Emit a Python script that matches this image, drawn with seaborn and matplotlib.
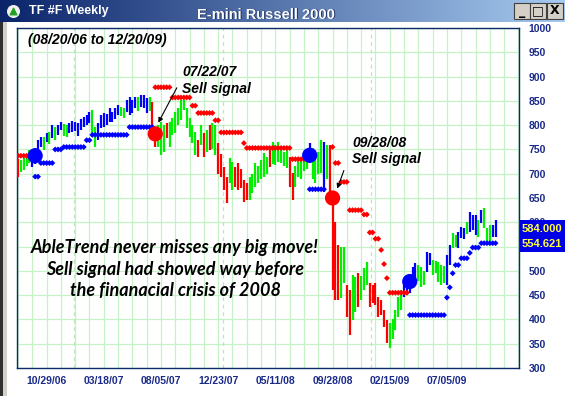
import numpy as np
import pandas as pd
import matplotlib
matplotlib.use("Agg")
import matplotlib.pyplot as plt
import seaborn as sns
from matplotlib.patches import Rectangle

# ---------------- data (weekly bars, week 0 = 08/20/06) ----------------
highs = [730, 728, 733, 738, 749, 745, 752, 769, 776, 776,
         784, 786, 800, 796, 800, 806, 803, 800, 804, 808,
         806, 804, 812, 817, 821, 827, 831, 796, 804, 820,
         825, 822, 835, 827, 836, 841, 838, 836, 852, 858,
         852, 858, 858, 862, 862, 855, 858, 848, 795, 800,
         806, 800, 804, 806, 815, 827, 835, 852, 852, 835,
         815, 800, 786, 769, 800, 784, 790, 800, 804, 800,
         763, 740, 714, 693, 732, 725, 714, 722, 710, 687,
         680, 693, 700, 722, 715, 728, 742, 735, 755, 765,
         760, 765, 749, 745, 749, 734, 701, 715, 734, 730,
         742, 745, 763, 753, 749, 745, 769, 765, 760, 759,
         640, 600, 553, 549, 549, 470, 460, 491, 487, 496,
         490, 506, 518, 475, 471, 475, 446, 440, 419, 399,
         393, 400, 419, 446, 460, 480, 485, 490, 508, 516,
         512, 508, 500, 539, 537, 522, 520, 518, 512, 510,
         533, 553, 578, 574, 580, 590, 588, 600, 621, 615,
         615, 605, 625, 629, 588, 594, 594, 605]
lows = [693, 703, 708, 715, 722, 714, 720, 728, 755, 749,
        765, 762, 773, 770, 780, 790, 778, 776, 784, 786,
        788, 778, 790, 796, 800, 804, 776, 755, 769, 794,
        796, 800, 806, 806, 812, 821, 818, 814, 827, 821,
        825, 835, 830, 837, 835, 825, 830, 774, 755, 755,
        738, 745, 774, 755, 780, 784, 800, 811, 831, 794,
        776, 763, 738, 734, 760, 734, 745, 749, 750, 738,
        700, 693, 667, 640, 680, 667, 673, 667, 670, 642,
        645, 646, 660, 673, 680, 690, 693, 700, 714, 720,
        718, 725, 722, 715, 712, 673, 646, 673, 693, 690,
        705, 710, 722, 690, 681, 700, 701, 662, 690, 652,
        460, 440, 440, 445, 475, 405, 368, 399, 415, 426,
        440, 460, 471, 426, 434, 430, 405, 410, 384, 351,
        341, 360, 378, 405, 419, 446, 450, 455, 467, 485,
        480, 467, 470, 498, 512, 491, 495, 477, 471, 475,
        471, 512, 547, 550, 547, 568, 565, 575, 580, 585,
        574, 570, 598, 588, 559, 559, 570, 570]
trend = list("rggggbbbbg" "bgbgbbggbb" "bbbbbbggbb" "bbbbbbggbb"
             "bbgbbbgrrg" "ggrggggggg" "gggrgrgrgg" "rrrrggrrrr"
             "rgggggggrg" "gggggrrggg" "ggbggggbgr" "rrrggrrggr"
             "gggrrrrrrr" "gggggbbbbb" "gggbbggggg" "bbggbbbgbb"
             "bgbgggbb")

# stop levels: (first week, last week, price)
red_stops = [(0, 5, 737), (48, 53, 878), (54, 60, 857), (61, 62, 840),
             (63, 68, 825), (69, 70, 810), (71, 78, 785), (79, 79, 763),
             (80, 95, 753), (96, 100, 730), (110, 110, 755), (111, 112, 722),
             (113, 115, 683), (116, 120, 625), (121, 122, 616), (123, 124, 579),
             (125, 126, 566), (127, 127, 543), (128, 128, 514), (129, 129, 485),
             (130, 136, 455)]
blue_stops = [(6, 7, 694), (8, 12, 722), (13, 15, 750), (16, 23, 755),
              (24, 25, 769), (26, 38, 780), (39, 47, 796), (102, 107, 668),
              (137, 149, 409), (150, 150, 445), (151, 151, 466), (152, 152, 495),
              (153, 154, 512), (155, 157, 526), (158, 158, 537), (159, 161, 548),
              (162, 167, 557)]
buy_weeks, buy_prices = [6, 102, 137], [737, 738, 478]
sell_weeks, sell_prices = [48, 110], [782, 650]

tick_weeks = [10, 30, 50, 70, 90, 110, 130, 150]
tick_labels = ["10/29/06", "03/18/07", "08/05/07", "12/23/07",
               "05/11/08", "09/28/08", "02/15/09", "07/05/09"]
year_marks = [19.6, 71.6, 123.6]
y_ticks = list(range(300, 1001, 50))
hidden_y_labels = [550]          # fully covered by the last-price box
last_prices = ["584.000", "554.621"]

# ---------------- figure ----------------
sns.set_style("white")
plt.rcParams['font.family'] = ['Liberation Sans', 'DejaVu Sans']

W, H = 565, 396
fig = plt.figure(figsize=(W / 100, H / 100), dpi=100)
fig.patch.set_facecolor("white")

NAVY = "#1a2a88"
BLUE, GREEN, RED = "#0000ff", "#00f000", "#ff0000"
cmap = {"b": BLUE, "g": GREEN, "r": RED}
GRID = "#c6f0c6"

ax = fig.add_axes([17 / W, 1 - 368 / H, (519 - 17) / W, (368 - 28) / H])
ax.set_xlim(-0.35, 175.2)
ax.set_ylim(300, 1000)

# grid
for w in range(0, 176, 5):
    ax.axvline(w, color=GRID, lw=0.9, zorder=0)
for y in y_ticks:
    ax.axhline(y, color=GRID, lw=0.9, zorder=0)
for w in year_marks:
    ax.axvline(w, color="#b8e8b8", lw=0.9, ls=(0, (3, 3)), zorder=0)

# bars
weeks = np.arange(len(highs))
bars = pd.DataFrame({"week": weeks, "high": highs, "low": lows, "trend": trend})
ax.vlines(bars["week"], bars["low"], bars["high"],
          colors=[cmap[t] for t in bars["trend"]], lw=1.6, zorder=3)

# stops
def expand(runs, kind):
    rows = []
    for a, b, p in runs:
        for w in range(a, b + 1):
            rows.append((w, p, kind))
    return rows

stops = pd.DataFrame(expand(red_stops, "red") + expand(blue_stops, "blue"),
                     columns=["week", "price", "kind"])
sns.scatterplot(data=stops, x="week", y="price", hue="kind",
                palette={"red": RED, "blue": BLUE}, s=9, marker="D",
                linewidth=0, legend=False, ax=ax, zorder=4)

signals = pd.DataFrame({"week": buy_weeks + sell_weeks,
                        "price": buy_prices + sell_prices,
                        "kind": ["buy"] * len(buy_weeks) + ["sell"] * len(sell_weeks)})
sns.scatterplot(data=signals, x="week", y="price", hue="kind",
                palette={"buy": BLUE, "sell": RED}, s=120, marker="o",
                linewidth=0, legend=False, ax=ax, zorder=5)

# axes styling
ax.set_xlabel("")
ax.set_ylabel("")
ax.set_xticks(list(range(0, 176, 5)))
ax.set_xticklabels([tick_labels[tick_weeks.index(w)] if w in tick_weeks else ""
                    for w in range(0, 176, 5)])
ax.tick_params(axis="x", direction="out", length=4, width=1, color=NAVY,
               labelsize=7.5, labelcolor=NAVY, pad=2)
for lab in ax.get_xticklabels():
    lab.set_fontweight("bold")
ax.yaxis.tick_right()
ax.set_yticks(y_ticks)
ax.set_yticklabels(["" if v in hidden_y_labels else str(v) for v in y_ticks])
ax.tick_params(axis="y", length=0, labelsize=7.5, labelcolor=NAVY, pad=7)
for lab in ax.get_yticklabels():
    lab.set_fontweight("bold")
for s in ax.spines.values():
    s.set_color("#0a2a6a")
    s.set_linewidth(1.0)
ax.grid(False)

# annotations
ann_font = dict(fontsize=10, fontweight="bold", fontstyle="italic", color="black")
ax.text(57.4, 909, "07/22/07", ha="left", va="center", **ann_font, zorder=6)
ax.text(57.4, 874, "Sell signal", ha="left", va="center", **ann_font, zorder=6)
ax.annotate("", xy=(48.6, 800), xytext=(56.0, 882),
            arrowprops=dict(arrowstyle="-|>", color="black", lw=0.8,
                            mutation_scale=7), zorder=6)
ax.text(116.8, 763, "09/28/08", ha="left", va="center", **ann_font, zorder=6)
ax.text(116.8, 730, "Sell signal", ha="left", va="center", **ann_font, zorder=6)
ax.annotate("", xy=(111.3, 664), xytext=(114.3, 712),
            arrowprops=dict(arrowstyle="-|>", color="black", lw=0.8,
                            mutation_scale=7), zorder=6)

fig.text(28 / W, 1 - 40 / H, "(08/20/06 to 12/20/09)", ha="left", va="center",
         **ann_font)

msg_font = dict(fontsize=13, fontweight="bold", fontstyle="italic",
                color="black", family=["Lato", "DejaVu Sans"])
for txt, yy in [("AbleTrend never misses any big move!", 248),
                ("Sell signal had showed way before", 270),
                ("the finanacial crisis of 2008", 291)]:
    fig.text(175 / W, 1 - yy / H, txt, ha="center", va="center", **msg_font)

# price box (covers the 600 label, as in the platform)
fig.patches.append(Rectangle((520 / W, 1 - 252 / H), 45 / W, 32 / H,
                             transform=fig.transFigure, facecolor="#0000e6",
                             edgecolor="none", zorder=10))
for txt, yy in zip(last_prices, [229, 244]):
    fig.text(522 / W, 1 - yy / H, txt, ha="left", va="center", fontsize=8,
             fontweight="bold", color="#ffff40", zorder=11)

# title bar
tb = fig.add_axes([0, 1 - 22 / H, 1, 22 / H])
grad = np.linspace(0, 1, 256)
c0 = np.array([10, 36, 106]) / 255
c1 = np.array([166, 202, 240]) / 255
img = (c0[None, :] * (1 - grad[:, None]) + c1[None, :] * grad[:, None])[None, :, :]
tb.imshow(img, aspect="auto", extent=[0, 1, 0, 1])
tb.set_xlim(0, 1)
tb.set_ylim(0, 1)
tb.set_axis_off()
tb.scatter([13 / W], [0.5], s=70, color="#f0f0f0", zorder=3)
tb.scatter([13 / W], [0.52], s=22, marker="^", color="#20a020", zorder=4)
tb.text(29 / W, 0.5, "TF #F Weekly", color="white", fontsize=9,
        fontweight="bold", va="center", ha="left", transform=tb.transAxes)
tb.text(266 / W + 0.002, 0.3, "E-mini Russell 2000", color="#203060", fontsize=10.5,
        fontweight="bold", va="center", ha="center", transform=tb.transAxes)
tb.text(266 / W, 0.34, "E-mini Russell 2000", color="white", fontsize=10.5,
        fontweight="bold", va="center", ha="center", transform=tb.transAxes)
for bx, sym in [(514, "_"), (530, "□"), (547, "X")]:
    tb.add_patch(Rectangle((bx / W, 3 / 22), 16 / W, 16 / 22, transform=tb.transAxes,
                           facecolor="#d4d0c8", edgecolor="#404040", lw=0.8))
    tb.text((bx + 8) / W, 0.5, sym, transform=tb.transAxes, ha="center",
            va="center", fontsize=9, fontweight="bold", color="black",
            family=["DejaVu Sans"])

# left window border
fig.patches.append(Rectangle((0, 0), 3 / W, 1 - 22 / H, transform=fig.transFigure,
                             facecolor="#303030", edgecolor="none", zorder=9))
fig.patches.append(Rectangle((3 / W, 0), 4 / W, 1 - 22 / H, transform=fig.transFigure,
                             facecolor="#d4d0c8", edgecolor="none", zorder=9))

fig.savefig("out.png", dpi=100)
